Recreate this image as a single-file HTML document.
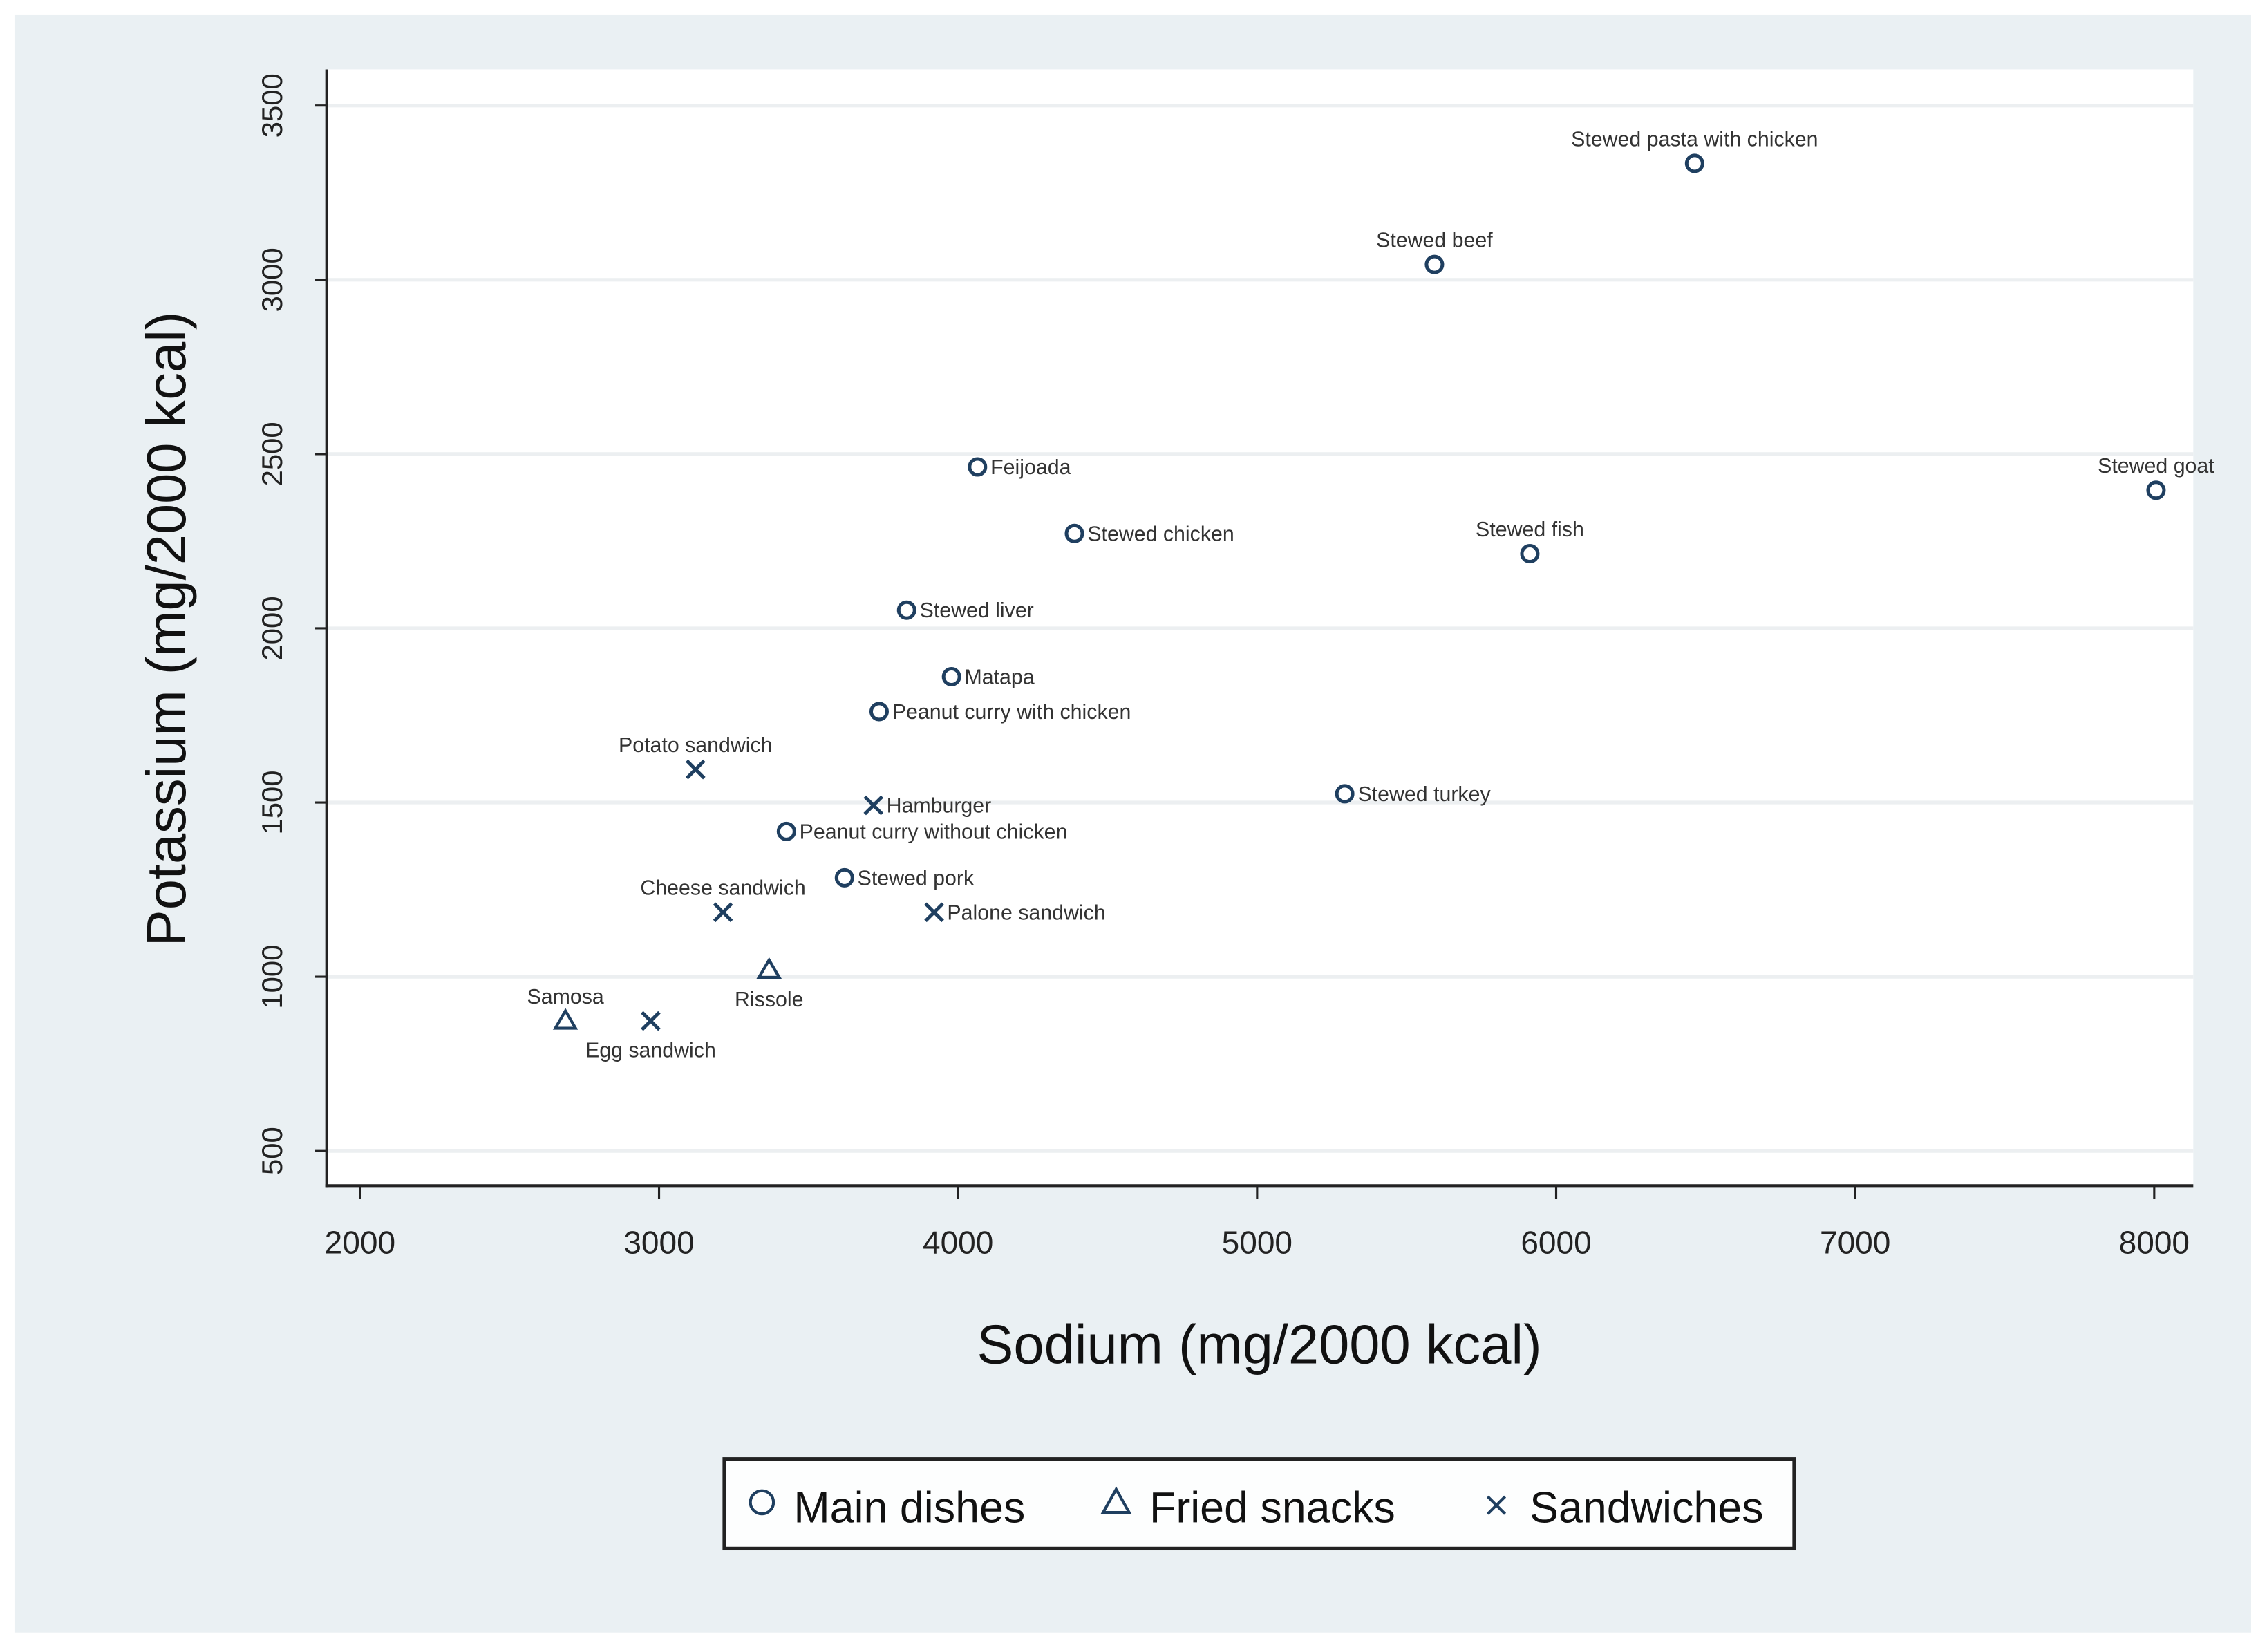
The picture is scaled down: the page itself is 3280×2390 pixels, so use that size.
<!DOCTYPE html>
<html><head><meta charset="utf-8"><style>
html,body{margin:0;padding:0;background:#fff;}
svg{display:block;font-family:"Liberation Sans",Arial,sans-serif;}
</style></head><body>
<svg id="chart" width="3280" height="2390" viewBox="0 0 1568 1142.5">
<rect x="0" y="0" width="1568" height="1142.5" fill="#ffffff"/>
<rect x="10" y="10" width="1547" height="1119" fill="#eaf0f3"/>
<rect x="226" y="48" width="1291" height="772" fill="#ffffff"/>
<g id="grid"></g>
<g id="axes"></g>
<g id="marks"></g>
<text x="871" y="943" font-size="38" text-anchor="middle" fill="#111">Sodium (mg/2000 kcal)</text>
<text transform="translate(128,435) rotate(-90)" font-size="38" text-anchor="middle" fill="#111">Potassium (mg/2000 kcal)</text>
<g>
<rect x="501" y="1009" width="740" height="62" fill="#fdfefe" stroke="#222" stroke-width="2.5"/>
<g>
<circle cx="527" cy="1039" r="8" fill="none" stroke="#1f3f60" stroke-width="2"/>
<text x="549" y="1053" font-size="30" fill="#111">Main dishes</text></g>
<g>
<path d="M772,1030 L781,1046 L763,1046 Z" fill="none" stroke="#1f3f60" stroke-width="2"/>
<text x="795" y="1053" font-size="30" fill="#111">Fried snacks</text></g>
<g>
<path d="M1029,1035 L1041,1047 M1041,1035 L1029,1047" stroke="#1f3f60" stroke-width="2"/>
<text x="1058" y="1053" font-size="30" fill="#111">Sandwiches</text></g>
</g>
</svg>
<script>
const xTicks = [2000, 3000, 4000, 5000, 6000, 7000, 8000];
const yTicks = [500, 1000, 1500, 2000, 2500, 3000, 3500];
const mainNames = ["Stewed pasta with chicken","Stewed beef","Feijoada","Stewed chicken","Stewed goat","Stewed fish","Stewed liver","Matapa","Peanut curry with chicken","Stewed turkey","Peanut curry without chicken","Stewed pork"];
const mainSodium = [6463, 5593, 4065, 4389, 8006, 5912, 3828, 3978, 3736, 5293, 3426, 3620];
const mainPotassium = [3334, 3044, 2463, 2272, 2396, 2214, 2052, 1861, 1761, 1525, 1417, 1284];
const snackNames = ["Samosa","Rissole"];
const snackSodium = [2687, 3368];
const snackPotassium = [873, 1019];
const sandNames = ["Potato sandwich","Hamburger","Cheese sandwich","Palone sandwich","Egg sandwich"];
const sandSodium = [3122, 3717, 3214, 3920, 2972];
const sandPotassium = [1595, 1492, 1185, 1185, 873];
const mainLabelPos = ["t","t","r","r","t","t","r","r","r","r","r","r"];
const snackLabelPos = ["t","b"];
const sandLabelPos = ["t","r","t","r","b"];

const NS = "http://www.w3.org/2000/svg";
function xs(v){ return 249 + (v - 2000) * (1490 - 249) / 6000; }
function ys(v){ return 796 - (v - 500) * (796 - 73) / 3000; }
function mk(tag, attrs, parent){ const e = document.createElementNS(NS, tag); for (const k in attrs) e.setAttribute(k, attrs[k]); parent.appendChild(e); return e; }

const grid = document.getElementById('grid');
const axes = document.getElementById('axes');
const marks = document.getElementById('marks');

yTicks.forEach(function(t){
  const g = mk('line', {x1:227, x2:1517, y1:ys(t), y2:ys(t), stroke:'#eceff1', 'stroke-width':2.5}, grid);
  
  
  const tk = mk('line', {x1:218, x2:226, y1:ys(t), y2:ys(t), stroke:'#222', 'stroke-width':1.5}, axes);
  
  
  const lb = mk('text', {transform:'translate(195,' + ys(t) + ') rotate(-90)', 'font-size':20, 'text-anchor':'middle', fill:'#222'}, axes);
  lb.textContent = t;
  
  
});
xTicks.forEach(function(t){
  const tk = mk('line', {x1:xs(t), x2:xs(t), y1:820, y2:829, stroke:'#222', 'stroke-width':1.5}, axes);
  
  
  const lb = mk('text', {x:xs(t), y:867, 'font-size':22, 'text-anchor':'middle', fill:'#222'}, axes);
  lb.textContent = t;
  
  
});
const ya = mk('line', {x1:226, x2:226, y1:48, y2:821, stroke:'#222', 'stroke-width':2}, axes);


const xa = mk('line', {x1:225, x2:1517, y1:820, y2:820, stroke:'#222', 'stroke-width':2}, axes);



const C = '#1f3f60';
function label(name, px, py, pos){
  let a = {x:px + 9, y:py + 5, 'text-anchor':'start'};
  if (pos === 't') a = {x:px, y:py - 12, 'text-anchor':'middle'};
  if (pos === 'b') a = {x:px, y:py + 25, 'text-anchor':'middle'};
  a['font-size'] = 14.5; a.fill = '#333';
  const t = mk('text', a, marks);
  t.textContent = name;
  
  
}
mainNames.forEach(function(n, i){
  const px = xs(mainSodium[i]), py = ys(mainPotassium[i]);
  const c = mk('circle', {cx:px, cy:py, r:5.5, fill:'none', stroke:C, 'stroke-width':2.4}, marks);
  
  
  label(n, px, py, mainLabelPos[i]);
});
snackNames.forEach(function(n, i){
  const px = xs(snackSodium[i]), py = ys(snackPotassium[i]);
  const p = mk('path', {d:'M' + px + ',' + (py - 7) + ' L' + (px + 7) + ',' + (py + 5) + ' L' + (px - 7) + ',' + (py + 5) + ' Z', fill:'none', stroke:C, 'stroke-width':2}, marks);
  
  
  label(n, px, py, snackLabelPos[i]);
});
sandNames.forEach(function(n, i){
  const px = xs(sandSodium[i]), py = ys(sandPotassium[i]);
  const p = mk('path', {d:'M' + (px - 6) + ',' + (py - 6) + ' L' + (px + 6) + ',' + (py + 6) + ' M' + (px + 6) + ',' + (py - 6) + ' L' + (px - 6) + ',' + (py + 6), stroke:C, 'stroke-width':2.4}, marks);
  
  
  label(n, px, py, sandLabelPos[i]);
});
</script>
</body></html>
